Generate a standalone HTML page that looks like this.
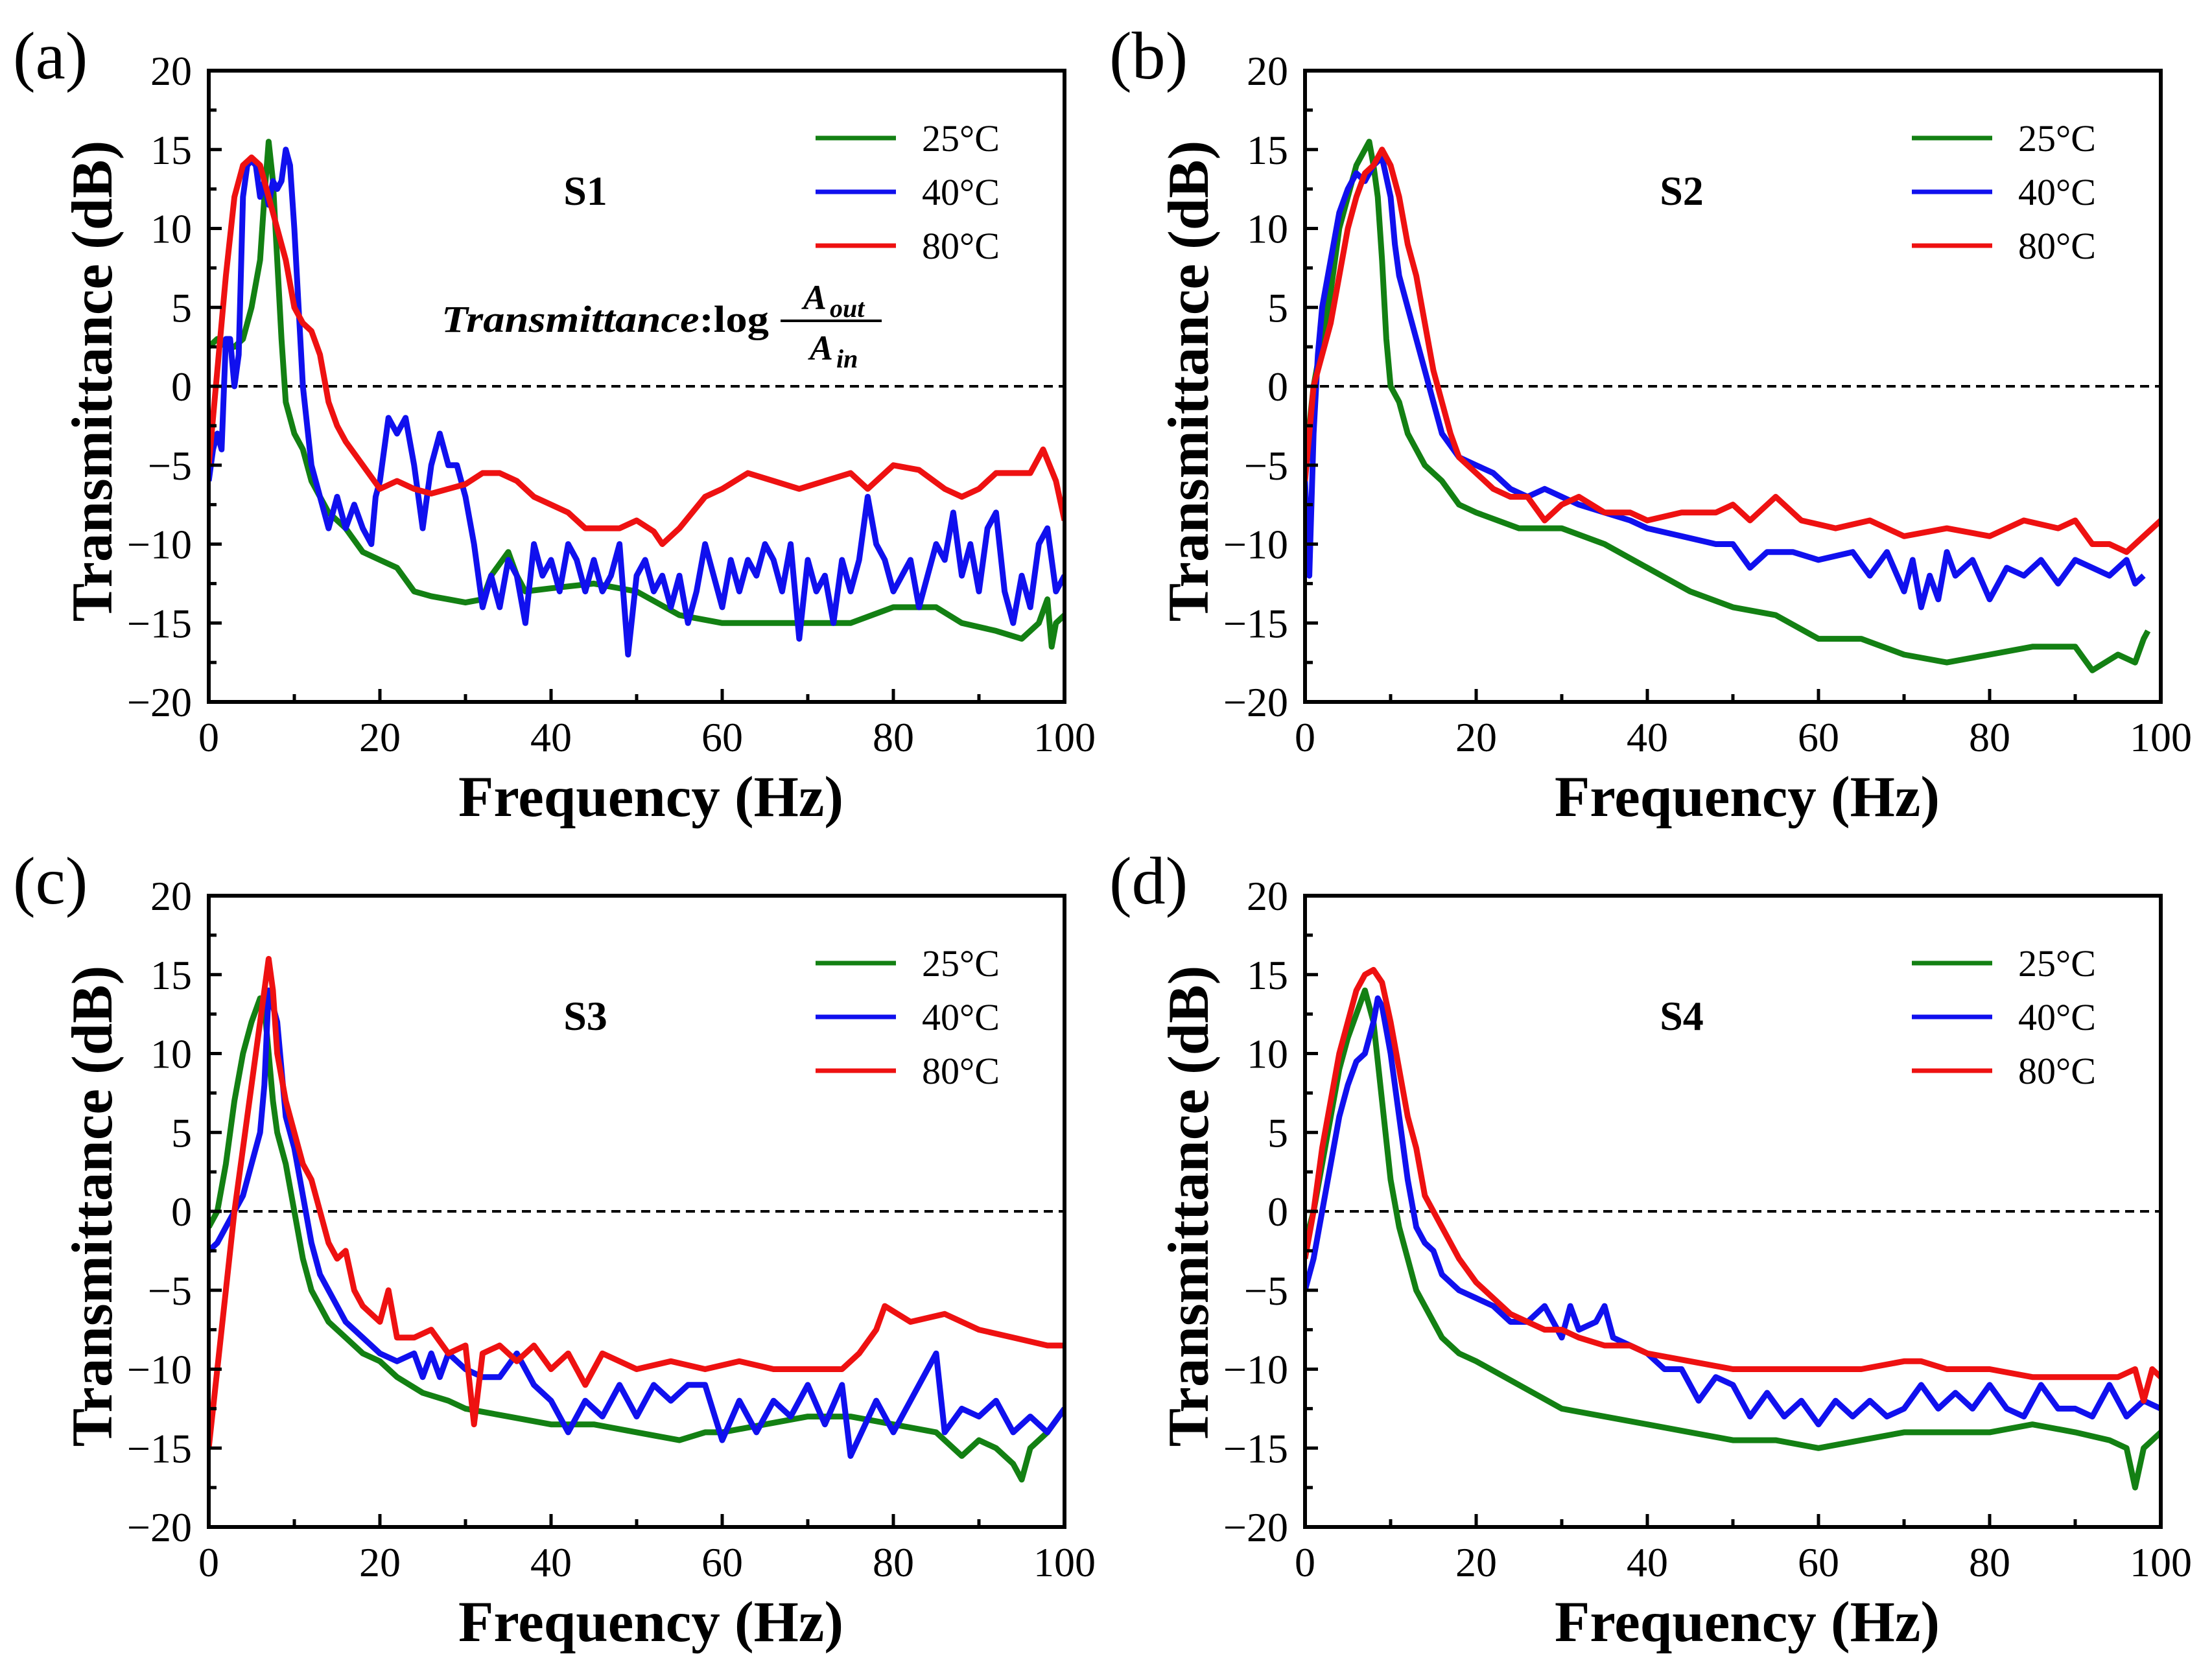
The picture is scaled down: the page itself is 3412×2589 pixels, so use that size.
<!DOCTYPE html>
<html><head><meta charset="utf-8"><style>
html,body{margin:0;padding:0;background:#fff;}
svg{display:block;font-family:"Liberation Serif",serif;}
</style></head><body>
<svg id="fig" width="3412" height="2589" viewBox="0 0 3412 2589" xmlns="http://www.w3.org/2000/svg"></svg>
<script>
const xTicks=[0,20,40,60,80,100];
const yTicks=[-20,-15,-10,-5,0,5,10,15,20];
const legendLabels=['25°C','40°C','80°C'];
const colors=['#138013','#1010ee','#ee1111'];
const panelIds=['a','b','c','d'];
const sampleNames=['S1','S2','S3','S4'];

const s1_25=[[0,2.5],[1,3],[2,2.5],[3,2.5],[4,3],[5,5],[6,8],[6.5,12],[7,15.5],[7.5,13],[8,8],[8.5,3],[9,-1],[9.5,-2],[10,-3],[11,-4],[12,-6],[13,-7],[14,-8],[16,-9],[18,-10.5],[20,-11],[22,-11.5],[24,-13],[26,-13.3],[28,-13.5],[30,-13.7],[32,-13.5],[33,-12],[35,-10.5],[36,-12],[37,-13],[40,-12.8],[45,-12.5],[50,-13],[55,-14.5],[60,-15],[65,-15],[70,-15],[75,-15],[80,-14],[85,-14],[88,-15],[92,-15.5],[95,-16],[97,-15],[98,-13.5],[98.5,-16.5],[99,-15],[100,-14.5]];
const s1_40=[[0,-6],[0.5,-4],[1,-3],[1.5,-4],[2,3],[2.5,3],[3,0],[3.5,2],[4,12],[4.5,14],[5,14.3],[5.5,14],[6,12],[6.5,13],[7,11.5],[7.5,13],[8,12.5],[8.5,13],[9,15],[9.5,14],[10,10],[10.5,5],[11,0],[12,-5],[13,-7],[14,-9],[15,-7],[16,-9],[17,-7.5],[18,-9],[19,-10],[19.5,-7],[20,-6],[21,-2],[22,-3],[23,-2],[24,-5],[25,-9],[26,-5],[27,-3],[28,-5],[29,-5],[30,-7],[31,-10],[32,-14],[33,-12],[34,-14],[35,-11],[36,-12],[37,-15],[38,-10],[39,-12],[40,-11],[41,-13],[42,-10],[43,-11],[44,-13],[45,-11],[46,-13],[47,-12],[48,-10],[49,-17],[50,-12],[51,-11],[52,-13],[53,-12],[54,-14],[55,-12],[56,-15],[57,-13],[58,-10],[59,-12],[60,-14],[61,-11],[62,-13],[63,-11],[64,-12],[65,-10],[66,-11],[67,-13],[68,-10],[69,-16],[70,-11],[71,-13],[72,-12],[73,-15],[74,-11],[75,-13],[76,-11],[77,-7],[78,-10],[79,-11],[80,-13],[81,-12],[82,-11],[83,-14],[84,-12],[85,-10],[86,-11],[87,-8],[88,-12],[89,-10],[90,-13],[91,-9],[92,-8],[93,-13],[94,-15],[95,-12],[96,-14],[97,-10],[98,-9],[99,-13],[100,-12]];
const s1_80=[[0,-5],[1,1],[2,7],[3,12],[4,14],[5,14.5],[6,14],[7,12],[8,10],[9,8],[10,5],[11,4],[12,3.5],[13,2],[14,-1],[15,-2.5],[16,-3.5],[18,-5],[20,-6.5],[22,-6],[24,-6.5],[26,-6.8],[28,-6.5],[30,-6.2],[32,-5.5],[34,-5.5],[36,-6],[38,-7],[40,-7.5],[42,-8],[44,-9],[46,-9],[48,-9],[50,-8.5],[52,-9.2],[53,-10],[55,-9],[58,-7],[60,-6.5],[63,-5.5],[66,-6],[69,-6.5],[72,-6],[75,-5.5],[77,-6.5],[80,-5],[83,-5.3],[86,-6.5],[88,-7],[90,-6.5],[92,-5.5],[96,-5.5],[97.5,-4],[99,-6],[100,-8.5]];

const s2_25=[[0,-5],[1,0],[2,3],[3,6],[4,10],[5,12],[6,14],[7,15],[7.5,15.5],[8,14],[8.5,12],[9,8],[9.5,3],[10,0],[11,-1],[12,-3],[13,-4],[14,-5],[16,-6],[18,-7.5],[20,-8],[25,-9],[30,-9],[35,-10],[40,-11.5],[45,-13],[50,-14],[55,-14.5],[60,-16],[65,-16],[70,-17],[75,-17.5],[80,-17],[85,-16.5],[90,-16.5],[92,-18],[95,-17],[97,-17.5],[98,-16],[98.5,-15.5]];
const s2_40=[[0,-6],[0.5,-12],[1,-3],[1.5,2],[2,5],[3,8],[4,11],[5,12.5],[6,13.5],[7,13],[8,14],[9,14.5],[10,12],[10.5,9],[11,7],[12,5],[13,3],[14,1],[15,-1],[16,-3],[18,-4.5],[20,-5],[22,-5.5],[24,-6.5],[26,-7],[28,-6.5],[30,-7],[32,-7.5],[35,-8],[38,-8.5],[40,-9],[44,-9.5],[48,-10],[50,-10],[52,-11.5],[54,-10.5],[57,-10.5],[60,-11],[64,-10.5],[66,-12],[68,-10.5],[70,-13],[71,-11],[72,-14],[73,-12],[74,-13.5],[75,-10.5],[76,-12],[78,-11],[80,-13.5],[82,-11.5],[84,-12],[86,-11],[88,-12.5],[90,-11],[92,-11.5],[94,-12],[96,-11],[97,-12.5],[98,-12]];
const s2_80=[[0,-6],[0.5,-3],[1,0],[2,2],[3,4],[4,7],[5,10],[6,12],[7,13.5],[8,14],[9,15],[10,14],[11,12],[12,9],[13,7],[14,4],[15,1],[16,-1],[17,-3],[18,-4.5],[20,-5.5],[22,-6.5],[24,-7],[26,-7],[28,-8.5],[30,-7.5],[32,-7],[35,-8],[38,-8],[40,-8.5],[44,-8],[48,-8],[50,-7.5],[52,-8.5],[55,-7],[58,-8.5],[62,-9],[66,-8.5],[70,-9.5],[75,-9],[80,-9.5],[84,-8.5],[88,-9],[90,-8.5],[92,-10],[94,-10],[96,-10.5],[98,-9.5],[100,-8.5]];

const s3_25=[[0,-1],[1,0],[2,3],[3,7],[4,10],[5,12],[6,13.5],[6.5,13],[7,10],[7.5,7],[8,5],[9,3],[10,0],[11,-3],[12,-5],[13,-6],[14,-7],[16,-8],[18,-9],[20,-9.5],[22,-10.5],[25,-11.5],[28,-12],[30,-12.5],[35,-13],[40,-13.5],[45,-13.5],[50,-14],[55,-14.5],[58,-14],[60,-14],[65,-13.5],[70,-13],[75,-13],[80,-13.5],[85,-14],[88,-15.5],[90,-14.5],[92,-15],[94,-16],[95,-17],[96,-15],[98,-14],[100,-12.5]];
const s3_40=[[0,-2.5],[1,-2],[2,-1],[3,0],[4,1],[5,3],[6,5],[6.5,8],[7,14],[7.5,13],[8,12],[8.5,9],[9,6],[10,4],[11,1],[12,-2],[13,-4],[14,-5],[15,-6],[16,-7],[18,-8],[20,-9],[22,-9.5],[24,-9],[25,-10.5],[26,-9],[27,-10.5],[28,-9],[30,-10],[32,-10.5],[34,-10.5],[36,-9],[38,-11],[40,-12],[42,-14],[44,-12],[46,-13],[48,-11],[50,-13],[52,-11],[54,-12],[56,-11],[58,-11],[60,-14.5],[62,-12],[64,-14],[66,-12],[68,-13],[70,-11],[72,-13.5],[74,-11],[75,-15.5],[78,-12],[80,-14],[83,-11],[85,-9],[86,-14],[88,-12.5],[90,-13],[92,-12],[94,-14],[96,-13],[98,-14],[100,-12.5]];
const s3_80=[[0,-15],[1,-10],[2,-5],[3,0],[4,4],[5,8],[6,12],[7,16],[7.5,14],[8,10],[9,7],[10,5],[11,3],[12,2],[13,0],[14,-2],[15,-3],[16,-2.5],[17,-5],[18,-6],[20,-7],[21,-5],[22,-8],[24,-8],[26,-7.5],[28,-9],[30,-8.5],[31,-13.5],[32,-9],[34,-8.5],[36,-9.5],[38,-8.5],[40,-10],[42,-9],[44,-11],[46,-9],[50,-10],[54,-9.5],[58,-10],[62,-9.5],[66,-10],[70,-10],[74,-10],[76,-9],[78,-7.5],[79,-6],[82,-7],[86,-6.5],[90,-7.5],[94,-8],[98,-8.5],[100,-8.5]];

const s4_25=[[0,-2],[1,0],[2,3],[3,6],[4,9],[5,11],[6,12.5],[7,14],[7.5,13],[8,12],[9,7],[10,2],[11,-1],[12,-3],[13,-5],[14,-6],[16,-8],[18,-9],[20,-9.5],[25,-11],[30,-12.5],[35,-13],[40,-13.5],[45,-14],[50,-14.5],[55,-14.5],[60,-15],[65,-14.5],[70,-14],[75,-14],[80,-14],[85,-13.5],[90,-14],[94,-14.5],[96,-15],[97,-17.5],[98,-15],[100,-14]];
const s4_40=[[0,-5],[1,-3],[2,0],[3,3],[4,6],[5,8],[6,9.5],[7,10],[8,12],[8.5,13.5],[9,13],[10,10],[11,6],[12,2],[13,-1],[14,-2],[15,-2.5],[16,-4],[18,-5],[20,-5.5],[22,-6],[24,-7],[26,-7],[28,-6],[30,-8],[31,-6],[32,-7.5],[34,-7],[35,-6],[36,-8],[38,-8.5],[40,-9],[42,-10],[44,-10],[46,-12],[48,-10.5],[50,-11],[52,-13],[54,-11.5],[56,-13],[58,-12],[60,-13.5],[62,-12],[64,-13],[66,-12],[68,-13],[70,-12.5],[72,-11],[74,-12.5],[76,-11.5],[78,-12.5],[80,-11],[82,-12.5],[84,-13],[86,-11],[88,-12.5],[90,-12.5],[92,-13],[94,-11],[96,-13],[98,-12],[100,-12.5]];
const s4_80=[[0,-3],[1,0],[2,4],[3,7],[4,10],[5,12],[6,14],[7,15],[8,15.3],[9,14.5],[10,12],[11,9],[12,6],[13,4],[14,1],[15,0],[16,-1],[18,-3],[20,-4.5],[22,-5.5],[24,-6.5],[26,-7],[28,-7.5],[30,-7.5],[32,-8],[35,-8.5],[38,-8.5],[40,-9],[45,-9.5],[50,-10],[55,-10],[60,-10],[65,-10],[70,-9.5],[72,-9.5],[75,-10],[80,-10],[85,-10.5],[90,-10.5],[95,-10.5],[97,-10],[98,-12],[99,-10],[100,-10.5]];

const panelSeries=[[s1_25,s1_40,s1_80],[s2_25,s2_40,s2_80],[s3_25,s3_40,s3_80],[s4_25,s4_40,s4_80]];

const NS='http://www.w3.org/2000/svg';
const svg=document.getElementById('fig');
function mk(tag,attrs,parent,text){const e=document.createElementNS(NS,tag);for(const k in attrs)e.setAttribute(k,attrs[k]);if(text!==undefined)e.textContent=text;(parent||svg).appendChild(e);return e;}

const layout=[{L:322,T:109},{L:2013,T:109},{L:322,T:1382},{L:2013,T:1382}];
const W=1320,H=974;

panelIds.forEach((pid,i)=>{
  const {L,T}=layout[i];
  const g=mk('g',{});
  
  
  const sx=v=>L+v/100*W;
  const sy=v=>T+(20-v)/40*H;
  const lab=mk('text',{x:L-302,y:T+12,'font-size':104},g,'('+pid+')');
  
  
  const cp=mk('clipPath',{id:'clip'+pid},g);
  mk('rect',{x:L,y:T,width:W,height:H},cp);
  const z=mk('line',{x1:L,x2:L+W,y1:sy(0),y2:sy(0),stroke:'#000','stroke-width':4,'stroke-dasharray':'14,9'},g);
  
  
  panelSeries[i].forEach((s,k)=>{
    const d=s.map((p,j)=>(j?'L':'M')+sx(p[0]).toFixed(1)+','+sy(p[1]).toFixed(1)).join(' ');
    const path=mk('path',{d:d,fill:'none',stroke:colors[k],'stroke-width':9,'stroke-linejoin':'round','clip-path':'url(#clip'+pid+')'},g);
    
    
  });
  const fr=mk('rect',{x:L,y:T,width:W,height:H,fill:'none',stroke:'#000','stroke-width':6},g);
  
  
  xTicks.forEach(v=>{
    mk('line',{x1:sx(v),x2:sx(v),y1:T+H,y2:T+H-20,stroke:'#000','stroke-width':5},g);
    if(v<100)mk('line',{x1:sx(v+10),x2:sx(v+10),y1:T+H,y2:T+H-12,stroke:'#000','stroke-width':5},g);
    const t=mk('text',{x:sx(v),y:T+H+76,'font-size':64,'text-anchor':'middle'},g,String(v));
    
    
  });
  yTicks.forEach(v=>{
    mk('line',{x1:L,x2:L+20,y1:sy(v),y2:sy(v),stroke:'#000','stroke-width':5},g);
    if(v<20)mk('line',{x1:L,x2:L+12,y1:sy(v+2.5),y2:sy(v+2.5),stroke:'#000','stroke-width':5},g);
    const t=mk('text',{x:L-26,y:sy(v)+22,'font-size':64,'text-anchor':'end'},g,(v<0?'\u2212'+(-v):String(v)));
    
    
  });
  const xt=mk('text',{x:L+W/2+22,y:T+H+176,'font-size':89,'font-weight':'bold','text-anchor':'middle'},g,'Frequency (Hz)');
  
  
  const yt=mk('text',{x:0,y:0,'font-size':89,'font-weight':'bold','text-anchor':'middle',transform:'translate('+(L-150)+','+(T+H/2-8)+') rotate(-90)'},g,'Transmittance (dB)');
  
  
  legendLabels.forEach((lb,k)=>{
    const yy=T+104+k*83;
    const ln=mk('line',{x1:L+936,x2:L+1060,y1:yy,y2:yy,stroke:colors[k],'stroke-width':7},g);
    
    
    const t=mk('text',{x:L+1100,y:yy+20,'font-size':58},g,lb);
    
    
  });
  const sn=mk('text',{x:L+581,y:T+207,'font-size':64,'font-weight':'bold','text-anchor':'middle'},g,sampleNames[i]);
  
  
  if(i===0){
    const fg=mk('g',{},g);
    
    
    const t1=mk('text',{x:L+359,y:T+403,'font-size':58,'font-weight':'bold',textLength:505,lengthAdjust:'spacingAndGlyphs'},fg);
    mk('tspan',{'font-style':'italic'},t1,'Transmittance');
    mk('tspan',{},t1,':log');
    mk('text',{x:L+935,y:T+368,'font-size':54,'font-weight':'bold','font-style':'italic','text-anchor':'middle'},fg,'A');
    mk('text',{x:L+958,y:T+380,'font-size':40,'font-weight':'bold','font-style':'italic'},fg,'out');
    mk('line',{x1:L+882,x2:L+1038,y1:T+386,y2:T+386,stroke:'#000','stroke-width':4},fg);
    mk('text',{x:L+945,y:T+446,'font-size':54,'font-weight':'bold','font-style':'italic','text-anchor':'middle'},fg,'A');
    mk('text',{x:L+968,y:T+458,'font-size':40,'font-weight':'bold','font-style':'italic'},fg,'in');
  }
});
</script>
</body></html>
